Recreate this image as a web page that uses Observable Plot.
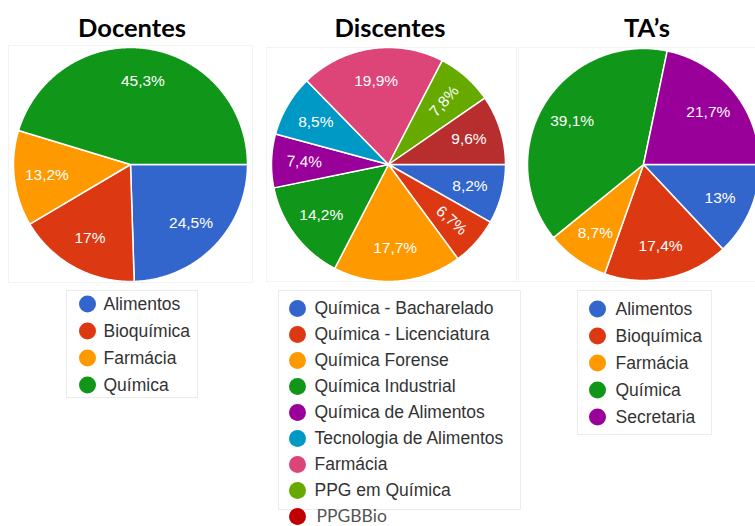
<!DOCTYPE html>
<html><head><meta charset="utf-8">
<script src="https://cdn.jsdelivr.net/npm/d3@7"></script>
<script src="https://cdn.jsdelivr.net/npm/@observablehq/plot@0.6"></script>
<style>
body{margin:0;background:#fff;}
#root{position:relative;width:755px;height:526px;overflow:hidden;background:#fff;}
.abs{position:absolute;}
.title{position:absolute;font-family:Lato,"Open Sans",sans-serif;font-weight:700;font-size:25.5px;line-height:25.5px;color:#000;transform:translateX(-50%);white-space:nowrap;}
.box{position:absolute;border:1px solid #ececec;box-sizing:border-box;background:#fff;}
.pbox{position:absolute;border:1px solid #f3f3f3;box-sizing:border-box;}
svg{overflow:visible;}
</style></head><body><div id="root"></div><script>
// ---- data ----
const docentesCategories = ["Alimentos", "Bioquímica", "Farmácia", "Química"];
const docentesValues = [24.5, 17, 13.2, 45.3];
const docentesColors = ["#3366cc", "#dc3912", "#ff9900", "#109618"];

const discentesCategories = ["Química - Bacharelado", "Química - Licenciatura", "Química Forense", "Química Industrial", "Química de Alimentos", "Tecnologia de Alimentos", "Farmácia", "PPG em Química", "PPGBBio"];
const discentesValues = [8.2, 6.7, 17.7, 14.2, 7.4, 8.5, 19.9, 7.8, 9.6];
const discentesColors = ["#3366cc", "#dc3912", "#ff9900", "#109618", "#990099", "#0099c6", "#dd4477", "#66aa00", "#b82e2e"];
const discentesLegendColors = ["#3366cc", "#dc3912", "#ff9900", "#109618", "#990099", "#0099c6", "#dd4477", "#66aa00", "#c00000"];

const tasCategories = ["Alimentos", "Bioquímica", "Farmácia", "Química", "Secretaria"];
const tasValues = [13, 17.4, 8.7, 39.1, 21.7];
const tasColors = ["#3366cc", "#dc3912", "#ff9900", "#109618", "#990099"];

const titles = ["Docentes", "Discentes", "TA’s"];

// ---- helpers ----
const root = document.getElementById("root");
function place(el, left, top) { el.style.position = "absolute"; el.style.left = left + "px"; el.style.top = top + "px"; root.appendChild(el); return el; }
function div(cls, left, top, w, h) { const d = document.createElement("div"); d.className = cls; d.style.left = left + "px"; d.style.top = top + "px"; if (w != null) d.style.width = w + "px"; if (h != null) d.style.height = h + "px"; root.appendChild(d); return d; }
const fmt = v => String(v).replace(".", ",") + "%";
const outline = {type: "Polygon", coordinates: [d3.range(0, 361, 2).map(a => [Math.cos(a * Math.PI / 180), Math.sin(a * Math.PI / 180)])]};

function pie(cats, vals, colors, size, rotateSmall) {
  const total = d3.sum(vals);
  let acc = 0;
  const slices = vals.map((v, i) => {
    const a0 = acc / total * 2 * Math.PI; acc += v; const a1 = acc / total * 2 * Math.PI;
    return {cat: cats[i], value: v, a0, a1, mid: (a0 + a1) / 2};
  });
  const poly = s => {
    const n = Math.max(2, Math.ceil((s.a1 - s.a0) / 0.01));
    const pts = [[0, 0]];
    for (let k = 0; k <= n; k++) { const a = s.a0 + (s.a1 - s.a0) * k / n; pts.push([Math.cos(a), Math.sin(a)]); }
    pts.push([0, 0]);
    return pts;
  };
  const features = slices.map(s => ({type: "Feature", properties: s, geometry: {type: "Polygon", coordinates: [poly(s)]}}));
  const rot = s => {
    if (!rotateSmall || s.value >= 8) return 0;
    let deg = s.mid * 180 / Math.PI;
    while (deg > 90) deg -= 180;
    while (deg < -90) deg += 180;
    return deg;
  };
  return Plot.plot({
    width: size, height: size, margin: 0,
    projection: ({width, height}) => d3.geoIdentity().fitSize([width, height], outline),
    color: {domain: cats, range: colors},
    marks: [
      Plot.geo(features, {fill: d => d.properties.cat, stroke: "white", strokeWidth: 1.5}),
      Plot.text(slices, {
        x: d => Math.cos(d.mid) * 0.72, y: d => Math.sin(d.mid) * 0.72,
        text: d => fmt(d.value), rotate: rot,
        fill: "white", fontSize: 15.5, fontFamily: "'Liberation Sans', Arial, sans-serif"
      })
    ]
  });
}

function legend(cats, colors, width, dotDx, textDx, rowH, special) {
  const main = cats.filter(c => c !== special);
  const marks = [
    Plot.dot(cats, {y: d => d, fill: d => d, r: 8.5, frameAnchor: "left", dx: dotDx}),
    Plot.text(main, {y: d => d, text: d => d, frameAnchor: "left", dx: textDx, textAnchor: "start", fontSize: 17.5, fill: "#333", fontFamily: "'Liberation Sans', Arial, sans-serif"})
  ];
  if (special) marks.push(Plot.text([special], {y: d => d, text: d => d, frameAnchor: "left", dx: textDx + 2, textAnchor: "start", fontSize: 17.5, fill: "#555", fontFamily: "Lato, sans-serif"}));
  return Plot.plot({
    width, height: cats.length * rowH, margin: 0,
    x: {axis: null},
    y: {type: "band", domain: cats, padding: 0, axis: null},
    color: {domain: cats, range: colors},
    marks
  });
}

// ---- pie frames ----
div("pbox", 8, 45, 245, 238);
div("pbox", 266, 47, 251, 235);
div("pbox", 518, 47, 260, 235);

// ---- titles ----
[[titles[0], 132], [titles[1], 390], [titles[2], 647]].forEach(([t, x]) => { const d = div("title", x, 14.5); d.textContent = t; });

// ---- pies ----
place(pie(docentesCategories, docentesValues, docentesColors, 234, false), 13, 47);
place(pie(discentesCategories, discentesValues, discentesColors, 234, true), 271, 47);
place(pie(tasCategories, tasValues, tasColors, 232, false), 527, 48);

// ---- legends ----
div("box", 66, 290, 132, 108);
place(legend(docentesCategories, docentesColors, 132, 21, 37, 27), 66, 289.5);
div("box", 278, 290, 243, 220);
place(legend(discentesCategories, discentesLegendColors, 243, 19, 36, 26.75, "PPGBBio"), 278, 291.6);
div("box", 577, 290, 135, 145);
place(legend(tasCategories, tasColors, 135, 20, 38, 27), 577, 294.5);
</script></body></html>
